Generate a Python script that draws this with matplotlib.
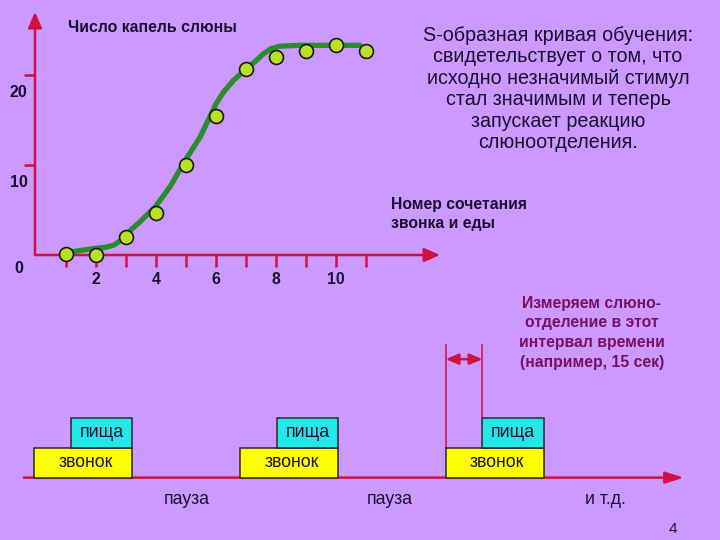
import matplotlib.pyplot as plt

plt.rcParams['font.family'] = ['Liberation Sans', 'DejaVu Sans']

# learning curve data (trial number vs. drops of saliva)
trials = [1, 2, 3, 4, 5, 6, 7, 8, 9, 10, 11]
drops = [0.1, 0.0, 2.0, 4.7, 10.0, 15.4, 20.7, 22.0, 22.7, 23.3, 22.7]

# smooth S-curve drawn through the points
curve_x = [0.91, 1.47, 1.99, 2.3, 2.6, 2.85, 3.1, 3.47, 3.99, 4.47, 4.99, 5.47,
           5.8, 6.0, 6.25, 6.58, 6.99, 7.3, 7.6, 7.85, 8.13, 8.8, 10.8]
curve_y = [0.2, 0.5, 0.74, 0.85, 1.1, 1.7, 2.6, 3.7, 5.4, 7.6, 10.6, 13.1,
           15.4, 16.8, 18.1, 19.4, 20.6, 21.5, 22.4, 22.95, 23.2, 23.3, 23.3]

xtick_values = list(range(1, 12))
xtick_labels = ['', '2', '', '4', '', '6', '', '8', '', '10', '']
ytick_values = [0, 10, 20]
ytick_labels = ['0', '10', '20']

# timeline of trials (schematic time units)
bell_on = [0, 84, 168]
bell_dur = 40
food_delay = 15
food_dur = 25

bg = '#cc99ff'
red = '#d01040'
dark = '#1a1030'

fig = plt.figure(figsize=(7.2, 5.4), dpi=100, facecolor=bg)


def fx(px):
    return px / 720


def fy(py):
    return 1 - py / 540


# ---- top chart ----
ax = fig.add_axes([fx(35), fy(255), 405 / 720, 243 / 540])
ax.set_facecolor('none')
ax.set_xlim(-1 / 30, 404 / 30)
ax.set_ylim(0, 27)
for s in ax.spines.values():
    s.set_visible(False)

ax.annotate('', xy=(0, 1), xytext=(0, 0), xycoords='axes fraction',
            arrowprops=dict(arrowstyle='-|>,head_length=0.95,head_width=0.42',
                            color=red, lw=1.8, mutation_scale=10,
                            shrinkA=0, shrinkB=0))
ax.annotate('', xy=(1, 0), xytext=(0, 0), xycoords='axes fraction',
            arrowprops=dict(arrowstyle='-|>,head_length=0.95,head_width=0.42',
                            color=red, lw=1.8, mutation_scale=10,
                            shrinkA=0, shrinkB=0))

ax.set_xticks(xtick_values)
ax.set_xticklabels(xtick_labels, fontsize=11.3, fontweight='bold', color=dark)
ax.tick_params(axis='x', direction='out', length=8.6, width=1.8, color=red, pad=4)
ax.set_yticks(ytick_values[1:])
ax.set_yticklabels([])
ax.tick_params(axis='y', direction='out', length=8, width=1.8, color=red)

ytr = ax.get_yaxis_transform()
for v, lab in zip(ytick_values, ytick_labels):
    off = -1.45 if v == 0 else -1.9
    ax.text(-0.04, v + off, lab, transform=ytr, ha='center', va='center',
            fontsize=11.5, fontweight='bold', color=dark)

ax.plot(curve_x, curve_y, color='#2a8c2a', lw=3.8, solid_capstyle='round',
        solid_joinstyle='round', zorder=3)
ax.plot(trials, drops, 'o', ms=10, mfc='#b8e02a', mec='#1a1a1a', mew=1.2,
        zorder=4, clip_on=False)

fig.text(fx(68), fy(28), 'Число капель слюны', ha='left', va='center',
         fontsize=11.4, fontweight='bold', color=dark)
fig.text(fx(391), fy(214), 'Номер сочетания\nзвонка и еды', ha='left',
         va='center', fontsize=11.3, fontweight='bold', color=dark,
         linespacing=1.35)
fig.text(fx(558), fy(89), 'S-образная кривая обучения:\nсвидетельствует о том, что\n'
         'исходно незначимый стимул\nстал значимым и теперь\nзапускает реакцию\n'
         'слюноотделения.', ha='center', va='center', fontsize=14.2,
         color=dark, linespacing=1.17)

# ---- bottom timeline ----
bx = fig.add_axes([0, 0, 1, 260 / 540])
bx.set_facecolor('none')
bx.set_xlim(-14, 280)
bx.set_ylim(-2.08, 6.59)
bx.axis('off')

bx.annotate('', xy=(265.2, 0), xytext=(-4.2, 0),
            arrowprops=dict(arrowstyle='-|>,head_length=1.1,head_width=0.35',
                            color=red, lw=1.8, mutation_scale=10,
                            shrinkA=0, shrinkB=0))

food_on = [b + food_delay for b in bell_on]
bx.bar(bell_on, 1, width=bell_dur, bottom=0, align='edge', color='#ffff00',
       edgecolor='#2a2a2a', lw=1.1, zorder=3)
bx.bar(food_on, 1, width=food_dur, bottom=1, align='edge', color='#22e8e8',
       edgecolor='#2a2a2a', lw=1.1, zorder=3)
for b, f in zip(bell_on, food_on):
    bx.text(b + bell_dur / 2 + 1, 0.5, 'звонок', ha='center', va='center',
            fontsize=12.8, color=dark, zorder=4)
    bx.text(f + food_dur / 2, 1.5, 'пища', ha='center', va='center',
            fontsize=12.8, color=dark, zorder=4)

# measurement interval on the last trial
m0 = bell_on[2]
m1 = food_on[2]
bx.plot([m0, m0], [1, 4.42], color=red, lw=1.1, zorder=2)
bx.plot([m1, m1], [2, 4.42], color=red, lw=1.1, zorder=2)
bx.annotate('', xy=(m1, 3.95), xytext=(m0, 3.95),
            arrowprops=dict(arrowstyle='<|-|>,head_length=0.75,head_width=0.32',
                            color=red, lw=1.8, mutation_scale=10,
                            shrinkA=0, shrinkB=0))

fig.text(fx(591.7), fy(332.9), 'Измеряем слюно-\nотделение в этот\n'
         'интервал времени\n(например, 15 сек)', ha='center', va='center',
         fontsize=11.3, fontweight='bold', color='#7a1060', linespacing=1.4)

fig.text(fx(186.7), fy(499), 'пауза', ha='center', va='center', fontsize=12.8, color=dark)
fig.text(fx(390), fy(500), 'пауза', ha='center', va='center', fontsize=12.8, color=dark)
fig.text(fx(605), fy(499), 'и т.д.', ha='center', va='center', fontsize=12.8, color=dark)
fig.text(fx(673), fy(529), '4', ha='center', va='center', fontsize=11, color=dark)

fig.savefig('out.png', dpi=100, facecolor=bg)
